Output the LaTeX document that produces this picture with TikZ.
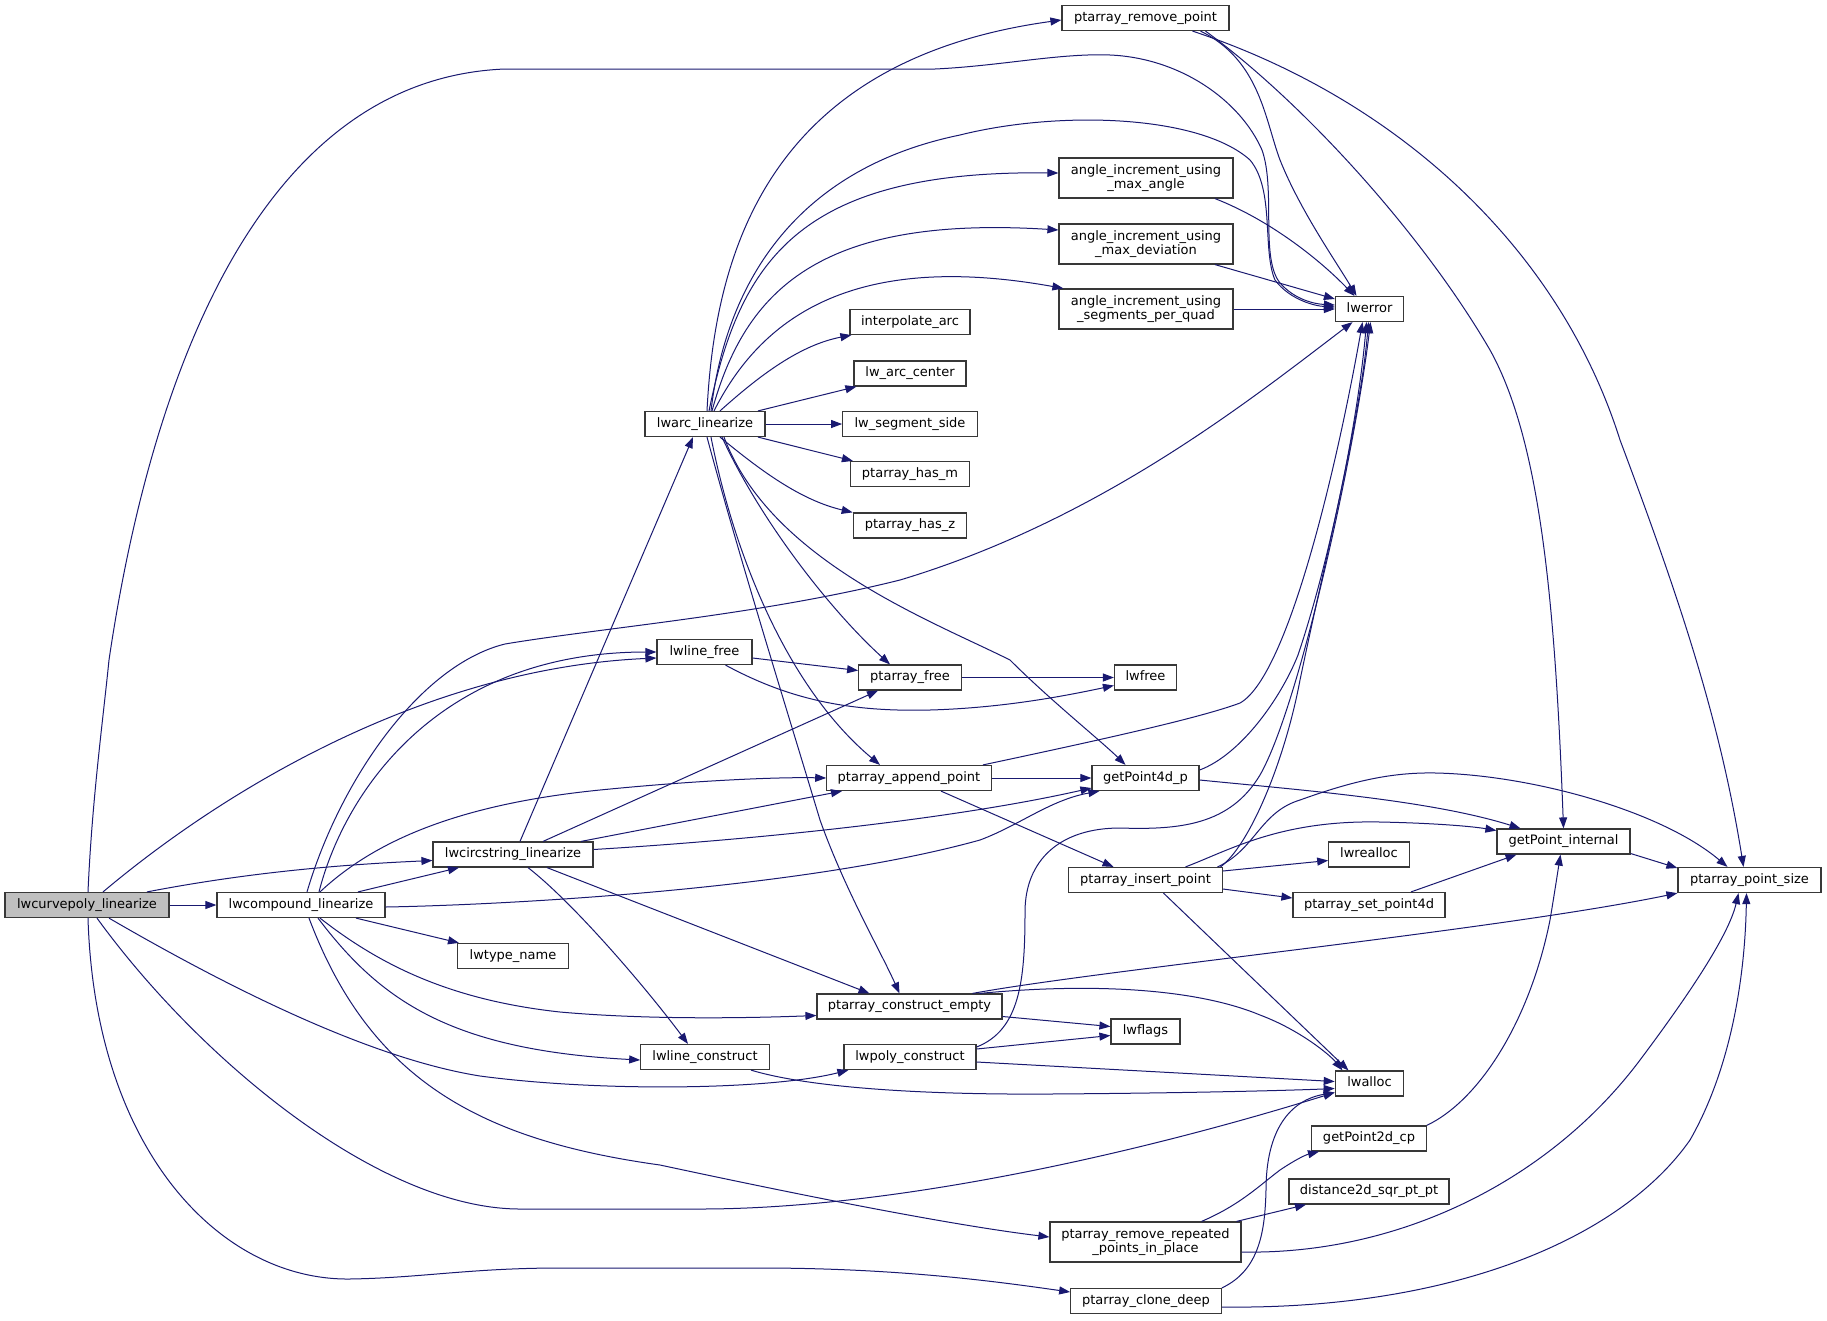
\documentclass[tikz,border=0pt]{standalone}
\usepackage{fontspec}
\newfontfamily\dvs{DejaVu Sans}
\usetikzlibrary{arrows.meta}
\definecolor{edgeblue}{RGB}{25,25,112}
\definecolor{rootgray}{RGB}{191,191,191}
\begin{document}
\begin{tikzpicture}[x=1pt,y=-1pt,
  fn/.style={draw=black!78, line width=1.2pt, fill=white, rectangle, inner sep=0pt,
    minimum height=25pt, text height=9.6pt, text depth=2.8pt,
    font=\dvs\fontsize{13}{14.5}\selectfont},
  fntwo/.style={draw=black!78, line width=1.2pt, fill=white, rectangle, inner sep=0pt,
    minimum height=40pt, align=center, font=\dvs\fontsize{13}{14.5}\selectfont},
  call/.style={draw=edgeblue, line width=1pt, -{Triangle[length=11pt,width=8pt]}}]

\fill[white] (0,0) rectangle (1827,1320);
\useasboundingbox (0,0) rectangle (1827,1320);

% ---------- nodes ----------
\node[fn,fill=rootgray,minimum width=164pt] (curve) at (87,905) {lwcurvepoly\_linearize};
\node[fn,minimum width=168pt] (compound) at (301,905) {lwcompound\_linearize};
\node[fn,minimum width=160pt] (circ) at (513,854.5) {lwcircstring\_linearize};
\node[fn,minimum width=110.5pt] (tname) at (513,956) {lwtype\_name};
\node[fn,minimum width=120pt] (arc) at (705,424) {lwarc\_linearize};
\node[fn,minimum width=95pt] (lfree) at (704.5,652) {lwline\_free};
\node[fn,minimum width=128.5pt] (lcons) at (705,1057) {lwline\_construct};
\node[fn,minimum width=167pt] (rmpt) at (1145.5,18) {ptarray\_remove\_point};
\node[fntwo,minimum width=174pt] (maxang) at (1146,178) {angle\_increment\_using\\\_max\_angle};
\node[fntwo,minimum width=174pt] (maxdev) at (1146,244) {angle\_increment\_using\\\_max\_deviation};
\node[fntwo,minimum width=174pt] (segq) at (1146,309) {angle\_increment\_using\\\_segments\_per\_quad};
\node[fn,minimum width=120pt] (interp) at (910,322) {interpolate\_arc};
\node[fn,minimum width=112pt] (arcc) at (910,373.5) {lw\_arc\_center};
\node[fn,minimum width=134.6pt] (segside) at (910,424) {lw\_segment\_side};
\node[fn,minimum width=119pt] (hasm) at (910,474) {ptarray\_has\_m};
\node[fn,minimum width=113.5pt] (hasz) at (910,525.5) {ptarray\_has\_z};
\node[fn,minimum width=102.6pt] (pfree) at (910,677.5) {ptarray\_free};
\node[fn,minimum width=164.4pt] (append) at (909,778) {ptarray\_append\_point};
\node[fn,minimum width=185pt] (cempty) at (909.5,1006.5) {ptarray\_construct\_empty};
\node[fn,minimum width=132pt] (pcons) at (910,1057) {lwpoly\_construct};
\node[fn,minimum width=68pt] (err) at (1369.5,309) {lwerror};
\node[fn,minimum width=62pt] (lwfree) at (1145.5,677.5) {lwfree};
\node[fn,minimum width=107pt] (gp4d) at (1145.5,778) {getPoint4d\_p};
\node[fn,minimum width=153.6pt] (ins) at (1145.5,880) {ptarray\_insert\_point};
\node[fn,minimum width=69pt] (flags) at (1145.5,1031.5) {lwflags};
\node[fn,minimum width=68.5pt] (alloc) at (1369.5,1083.5) {lwalloc};
\node[fn,minimum width=114.3pt] (gp2d) at (1369,1138.5) {getPoint2d\_cp};
\node[fn,minimum width=160pt] (dist) at (1369,1191.5) {distance2d\_sqr\_pt\_pt};
\node[fntwo,minimum width=191pt] (rmrep) at (1145.5,1242) {ptarray\_remove\_repeated\\\_points\_in\_place};
\node[fn,minimum width=150.5pt] (clone) at (1146,1301) {ptarray\_clone\_deep};
\node[fn,minimum width=80.4pt] (realloc) at (1369,854.5) {lwrealloc};
\node[fn,minimum width=152pt] (setp) at (1369,905) {ptarray\_set\_point4d};
\node[fn,minimum width=133pt] (gpint) at (1563.5,841.5) {getPoint\_internal};
\node[fn,minimum width=143pt] (psize) at (1749.5,880) {ptarray\_point\_size};

% ---------- lwcurvepoly_linearize ----------
\draw[call] (curve) -- (compound);
\draw[call] ([xshift=60pt]curve.north) .. controls (240,874) and (330,865) .. ([yshift=-6pt]circ.west);
\draw[call] ([xshift=16pt]curve.north) .. controls (230,785) and (430,668) .. ([yshift=-6pt]lfree.west);
\draw[call] ([xshift=1pt]curve.north) .. controls (92,800) and (103,720) .. (109,660)
  .. controls (140,450) and (230,80) .. (505,69) -- (935,69)
  .. controls (1000,66) and (1060,53) .. (1110,55)
  .. controls (1180,58) and (1240,100) .. (1262,150)
  .. controls (1276,190) and (1260,258) .. (1280,283)
  .. controls (1295,300) and (1315,304) .. ([yshift=4pt]err.west);
\draw[call] ([xshift=10pt]curve.south) .. controls (200,1060) and (380,1209) .. (520,1209) -- (700,1209)
  .. controls (900,1209) and (1150,1150) .. ([yshift=-9pt]alloc.west);
\draw[call] ([xshift=22pt]curve.south) .. controls (250,1000) and (380,1060) .. (480,1076)
  .. controls (600,1092) and (770,1090) .. ([xshift=5pt]pcons.south west);
\draw[call] ([xshift=1pt]curve.south) .. controls (95,1150) and (220,1280) .. (349,1279)
  .. controls (420,1278) and (470,1268) .. (560,1268) -- (760,1268)
  .. controls (900,1268) and (1000,1282) .. ([yshift=9pt]clone.west);

% ---------- lwcompound_linearize ----------
\draw[call] ([xshift=57pt]compound.north) -- ([xshift=-54pt]circ.south);
\draw[call] ([xshift=55pt]compound.south) -- ([xshift=-54pt]tname.north);
\draw[call] ([xshift=19pt]compound.south) .. controls (380,965) and (450,1000) .. (560,1012)
  .. controls (650,1020) and (750,1018) .. ([yshift=-9pt]cempty.west);
\draw[call] ([xshift=17pt]compound.south) .. controls (380,1000) and (450,1050) .. ([yshift=-3pt]lcons.west);
\draw[call] ([xshift=8pt]compound.south) .. controls (370,1080) and (480,1140) .. (660,1165)
  .. controls (800,1195) and (950,1225) .. ([yshift=5pt]rmrep.west);
\draw[call] ([yshift=-2pt]compound.east) .. controls (500,905) and (800,890) .. (980,840)
  .. controls (1020,825) and (1050,800) .. ([xshift=8pt]gp4d.south west);
\draw[call] ([xshift=6pt]compound.north) .. controls (340,780) and (420,665) .. (505,644)
  .. controls (600,628) and (760,615) .. (900,580)
  .. controls (1100,520) and (1250,400) .. ([xshift=-17pt]err.south);
\draw[call] ([xshift=18pt]compound.north) .. controls (345,790) and (440,652) .. (lfree.west);
\draw[call] ([xshift=19pt]compound.north) .. controls (370,845) and (450,805) .. (600,790)
  .. controls (700,780) and (780,777) .. (append.west);

% ---------- lwcircstring_linearize ----------
\draw[call] ([xshift=7pt]circ.north) -- ([xshift=-12pt]arc.south);
\draw[call] ([xshift=30pt]circ.north) -- ([xshift=-32pt]pfree.south);
\draw[call] ([xshift=68pt]circ.north) -- ([xshift=-67pt]append.south);
\draw[call] ([yshift=5pt]circ.east) .. controls (750,840) and (950,820) .. ([yshift=-10pt]gp4d.west);
\draw[call] ([xshift=34pt]circ.south) -- ([xshift=-40pt]cempty.north);
\draw[call] ([xshift=15pt]circ.south) .. controls (570,900) and (640,980) .. ([xshift=-17pt]lcons.north);

% ---------- lwarc_linearize ----------
\draw[call] ([xshift=2pt]arc.north) .. controls (715,250) and (770,60) .. ([yshift=-2pt]rmpt.west);
\draw[call] ([xshift=6pt]arc.north) .. controls (725,290) and (790,170) .. (960,135)
  .. controls (1060,110) and (1200,115) .. (1250,160)
  .. controls (1275,190) and (1262,250) .. (1275,280)
  .. controls (1290,300) and (1315,306) .. ([yshift=2pt]err.west);
\draw[call] ([xshift=4pt]arc.north) .. controls (740,260) and (800,170) .. ([yshift=5pt]maxang.west);
\draw[call] ([xshift=7pt]arc.north) .. controls (745,290) and (820,215) .. ([yshift=14pt]maxdev.west);
\draw[call] ([xshift=9pt]arc.north) .. controls (760,320) and (850,250) .. ([xshift=5pt]segq.north west);
\draw[call] ([xshift=15pt]arc.north) .. controls (760,375) and (800,345) .. ([xshift=2pt]interp.south west);
\draw[call] ([xshift=53pt]arc.north) -- ([xshift=3pt]arcc.south west);
\draw[call] (arc) -- (segside);
\draw[call] ([xshift=53pt]arc.south) -- ([xshift=3pt]hasm.north west);
\draw[call] ([xshift=15pt]arc.south) .. controls (760,470) and (800,500) .. (hasz.north west);
\draw[call] ([xshift=17pt]arc.south) .. controls (760,520) and (830,610) .. ([xshift=-20pt]pfree.north);
\draw[call] ([xshift=6pt]arc.south) .. controls (735,560) and (790,690) .. ([xshift=-29pt]append.north);
\draw[call] ([xshift=19pt]arc.south) .. controls (770,560) and (930,620) .. (1010,660)
  .. controls (1050,700) and (1100,740) .. ([xshift=-20pt]gp4d.north);
\draw[call] ([xshift=2pt]arc.south) .. controls (740,560) and (790,720) .. (820,820)
  .. controls (845,890) and (880,950) .. ([xshift=-10pt]cempty.north);

% ---------- lwline_free / ptarray_free ----------
\draw[call] ([yshift=-6pt]lfree.east) -- ([yshift=7pt]pfree.west);
\draw[call] ([xshift=21pt]lfree.south) .. controls (790,700) and (850,712) .. (930,710)
  .. controls (1000,708) and (1060,697) .. ([yshift=-8pt]lwfree.west);
\draw[call] (pfree) -- (lwfree);

% ---------- ptarray_append_point ----------
\draw[call] (append) -- (gp4d);
\draw[call] ([xshift=74pt]append.north) .. controls (1100,740) and (1200,718) .. (1240,703)
  .. controls (1290,675) and (1340,450) .. ([xshift=-7pt]err.south);
\draw[call] ([xshift=32pt]append.south) -- ([xshift=-32pt]ins.north);

% ---------- getPoint4d_p ----------
\draw[call] ([yshift=8pt]gp4d.east) .. controls (1240,755) and (1280,700) .. (1298,655)
  .. controls (1330,560) and (1358,420) .. ([xshift=-3pt]err.south);
\draw[call] ([yshift=-2pt]gp4d.east) .. controls (1300,790) and (1430,800) .. ([xshift=-43pt]gpint.north);

% ---------- ptarray_insert_point ----------
\draw[call] ([yshift=9pt]ins.east) -- ([yshift=-6pt]realloc.west);
\draw[call] ([yshift=-9pt]ins.east) -- ([yshift=7pt]setp.west);
\draw[call] ([xshift=40pt]ins.north) .. controls (1230,850) and (1280,820) .. (1380,822)
  .. controls (1430,823) and (1470,826) .. ([yshift=11pt]gpint.west);
\draw[call] ([xshift=72pt]ins.north) .. controls (1255,850) and (1260,812) .. (1300,800)
  .. controls (1350,782) and (1390,772) .. (1436,773)
  .. controls (1530,775) and (1660,810) .. ([xshift=-22pt]psize.north);
\draw[call] ([xshift=18pt]ins.south) -- ([xshift=-21pt]alloc.north);
\draw[call] ([xshift=75pt]ins.north) .. controls (1250,845) and (1285,760) .. (1300,680)
  .. controls (1325,560) and (1360,420) .. ([xshift=-1pt]err.south);

% ---------- ptarray_remove_point ----------
\draw[call] ([xshift=55pt]rmpt.south) .. controls (1260,60) and (1265,120) .. (1280,160)
  .. controls (1300,210) and (1335,260) .. ([xshift=-13pt]err.north);
\draw[call] ([xshift=60pt]rmpt.south) .. controls (1300,100) and (1420,230) .. (1490,350)
  .. controls (1540,440) and (1555,600) .. (gpint.north);
\draw[call] ([xshift=47pt]rmpt.south) .. controls (1400,100) and (1560,250) .. (1620,440)
  .. controls (1680,600) and (1720,720) .. ([xshift=-6pt]psize.north);

% ---------- angle_increment_* ----------
\draw[call] ([xshift=69pt]maxang.south) .. controls (1270,220) and (1320,260) .. ([xshift=-15pt]err.north);
\draw[call] ([xshift=69pt]maxdev.south) -- ([yshift=10pt]err.west);
\draw[call] (segq) -- (err);

% ---------- ptarray_construct_empty ----------
\draw[call] ([xshift=63pt]cempty.north) .. controls (1100,970) and (1500,930) .. (psize.south west);
\draw[call] ([xshift=70pt]cempty.north) .. controls (1100,982) and (1200,990) .. (1260,1015)
  .. controls (1300,1030) and (1330,1055) .. ([xshift=-27pt]alloc.north);
\draw[call] ([yshift=-10pt]cempty.east) -- ([yshift=5pt]flags.west);

% ---------- lwpoly_construct ----------
\draw[call] ([yshift=8pt]pcons.east) -- ([yshift=-4pt]flags.west);
\draw[call] ([yshift=-5pt]pcons.east) -- ([yshift=2pt]alloc.west);
\draw[call] ([yshift=10pt]pcons.east) .. controls (1020,1030) and (1025,980) .. (1025,912)
  .. controls (1025,860) and (1060,828) .. (1120,828)
  .. controls (1180,830) and (1230,825) .. (1260,775)
  .. controls (1300,705) and (1355,450) .. ([xshift=1pt]err.south);

% ---------- lwline_construct ----------
\draw[call] ([xshift=46pt]lcons.south) .. controls (800,1085) and (900,1095) .. (1050,1094)
  .. controls (1200,1093) and (1300,1090) .. ([yshift=-5pt]alloc.west);

% ---------- right part ----------
\draw[call] (gp2d.north east) .. controls (1480,1100) and (1530,1020) .. (1550,920)
  .. controls (1555,890) and (1558,870) .. ([xshift=-3pt]gpint.south);
\draw[call] ([xshift=42pt]setp.north) -- ([xshift=-47pt]gpint.south);
\draw[call] ([yshift=-12pt]gpint.east) -- ([yshift=12pt]psize.west);
\draw[call] ([xshift=56pt]rmrep.north) .. controls (1240,1205) and (1260,1185) .. (1280,1170)
  .. controls (1295,1160) and (1305,1155) .. ([xshift=-50pt]gp2d.south);
\draw[call] ([xshift=91pt]rmrep.north) -- ([xshift=-63pt]dist.south);
\draw[call] ([yshift=-10pt]rmrep.east) .. controls (1400,1255) and (1550,1180) .. (1640,1060)
  .. controls (1700,980) and (1730,930) .. ([xshift=-11pt]psize.south);
\draw[call] (clone.north east) .. controls (1260,1270) and (1265,1230) .. (1266,1190)
  .. controls (1266,1130) and (1290,1100) .. ([yshift=-9pt]alloc.west);
\draw[call] ([yshift=-6pt]clone.east) .. controls (1450,1310) and (1620,1240) .. (1690,1140)
  .. controls (1730,1070) and (1745,980) .. ([xshift=-3pt]psize.south);

\end{tikzpicture}
\end{document}
